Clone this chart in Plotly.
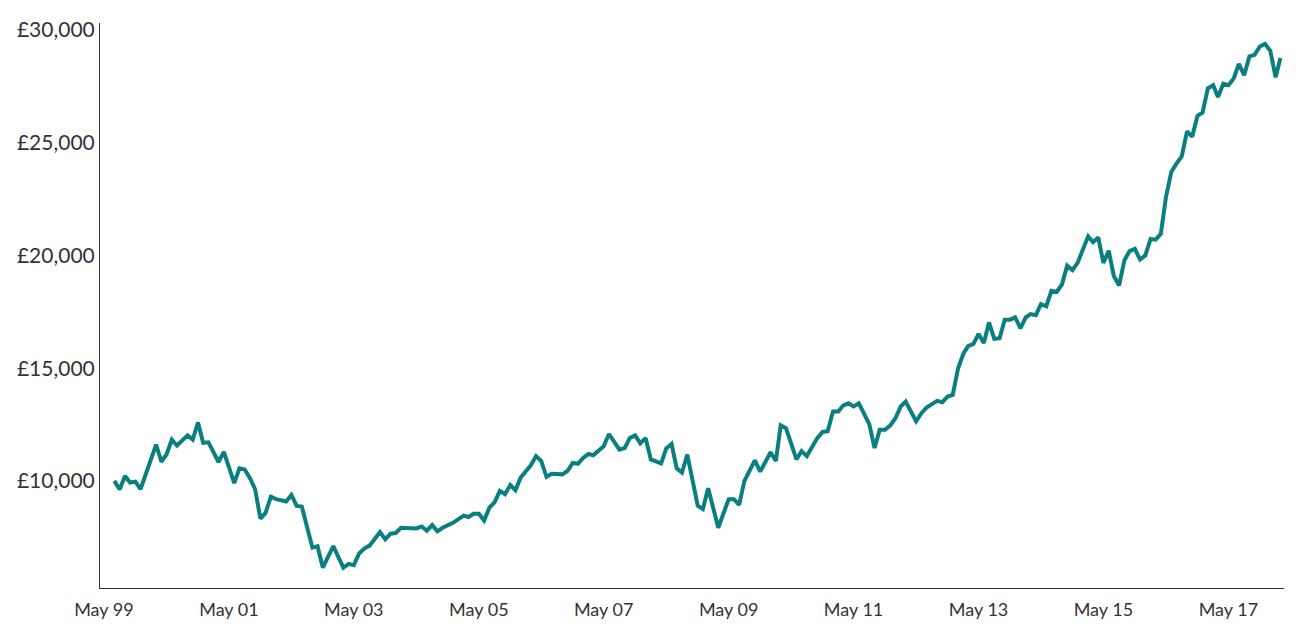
import plotly.graph_objects as go
import pandas as pd

# Month offsets from May 1999 and fund values (GBP)
month_offsets = [2, 3, 4, 5, 6, 7, 10, 11, 12, 13, 14, 16, 17, 18, 19, 20, 22, 23, 25, 26,
                 27, 28, 29, 30, 31, 32, 33, 35, 36, 37, 38, 40, 41, 42, 44, 46, 47, 48, 49, 50,
                 51, 53, 54, 55, 56, 57, 60, 61, 62, 63, 64, 65, 67, 69, 70, 71, 72, 73, 74, 75,
                 76, 77, 78, 79, 80, 81, 82, 83, 84, 85, 86, 88, 89, 90, 91, 92, 93, 94, 96, 97,
                 99, 100, 101, 102, 103, 104, 105, 107, 108, 109, 110, 111, 112, 114, 115, 116, 118, 120, 121, 122,
                 123, 125, 126, 128, 129, 130, 131, 133, 134, 135, 137, 138, 139, 140, 141, 142, 143, 144, 145, 147,
                 148, 149, 150, 151, 152, 153, 154, 156, 157, 158, 160, 161, 162, 163, 164, 165, 166, 167, 168, 169,
                 170, 171, 172, 173, 174, 175, 176, 177, 178, 179, 180, 181, 182, 183, 184, 185, 186, 187, 189, 190,
                 191, 192, 193, 194, 195, 196, 197, 198, 199, 200, 201, 202, 203, 204, 205, 206, 207, 208, 209, 210,
                 211, 212, 213, 214, 215, 216, 217, 218, 219, 220, 221, 222, 223, 224, 225, 226]

values = [10000, 9620, 10220, 9930, 9970, 9630, 11610, 10850, 11170, 11830, 11570, 12020, 11830, 12590, 11690, 11710, 10840, 11290, 9900, 10560,
          10510, 10120, 9630, 8330, 8580, 9300, 9190, 9090, 9380, 8890, 8860, 7040, 7100, 6150, 7110, 6150, 6320, 6260, 6780, 7000,
          7130, 7730, 7410, 7660, 7690, 7920, 7890, 7980, 7790, 8040, 7760, 7920, 8140, 8460, 8400, 8540, 8540, 8240, 8800, 9050,
          9560, 9410, 9820, 9590, 10150, 10470, 10690, 11100, 10880, 10180, 10320, 10290, 10440, 10800, 10760, 11020, 11200, 11140, 11540, 12080,
          11390, 11460, 11900, 12020, 11670, 11900, 10950, 10780, 11440, 11640, 10560, 10370, 11170, 8900, 8750, 9680, 7920, 9190, 9190, 8940,
          10000, 10910, 10410, 11270, 10880, 12460, 12340, 10950, 11320, 11100, 11900, 12170, 12200, 13080, 13080, 13340, 13440, 13300, 13440, 12520,
          11460, 12270, 12270, 12450, 12780, 13300, 13520, 12640, 13000, 13250, 13550, 13490, 13740, 13810, 14980, 15640, 15980, 16080, 16520, 16120,
          17030, 16300, 16330, 17150, 17150, 17250, 16770, 17250, 17400, 17350, 17840, 17740, 18430, 18380, 18720, 19550, 19350, 19670, 20850, 20590,
          20800, 19670, 20210, 19090, 18670, 19790, 20190, 20290, 19820, 20000, 20730, 20700, 20960, 22600, 23700, 24070, 24390, 25500, 25270, 26190,
          26340, 27410, 27550, 27030, 27620, 27550, 27850, 28500, 28000, 28830, 28900, 29270, 29390, 29080, 27900, 28760]

x_tick_dates = ["1999-05-01", "2001-05-01", "2003-05-01", "2005-05-01", "2007-05-01",
                "2009-05-01", "2011-05-01", "2013-05-01", "2015-05-01", "2017-05-01"]
x_tick_labels = ["May 99", "May 01", "May 03", "May 05", "May 07",
                 "May 09", "May 11", "May 13", "May 15", "May 17"]
y_tick_vals = [10000, 15000, 20000, 25000, 30000]
y_tick_labels = ["£10,000", "£15,000", "£20,000", "£25,000", "£30,000"]

base = pd.Timestamp("1999-05-01")
dates = [base + pd.DateOffset(months=m) for m in month_offsets]

fig = go.Figure()
fig.add_trace(go.Scatter(
    x=dates, y=values, mode="lines",
    line=dict(color="#0a7f80", width=4),
    hoverinfo="x+y", showlegend=False,
))

fig.update_layout(
    width=1284, height=622,
    margin=dict(l=92, r=8, t=10, b=42),
    paper_bgcolor="white", plot_bgcolor="white",
    font=dict(family="Lato, 'Open Sans', sans-serif", color="#333333"),
    xaxis=dict(
        type="date",
        range=["1999-04-08", "2018-03-22"],
        tickvals=x_tick_dates, ticktext=x_tick_labels,
        tickfont=dict(size=18, color="#333333"),
        showgrid=False, zeroline=False,
        showline=True, linecolor="#333333", linewidth=1,
        ticks="outside", ticklen=5, tickcolor="rgba(0,0,0,0)",
    ),
    yaxis=dict(
        range=[5250, 30310],
        tickvals=y_tick_vals, ticktext=y_tick_labels,
        tickfont=dict(size=21, color="#333333"),
        ticklabeloverflow="allow",
        showgrid=False, zeroline=False,
        showline=True, linecolor="#333333", linewidth=1,
        ticks="",
    ),
)

fig.write_html("out.html")
